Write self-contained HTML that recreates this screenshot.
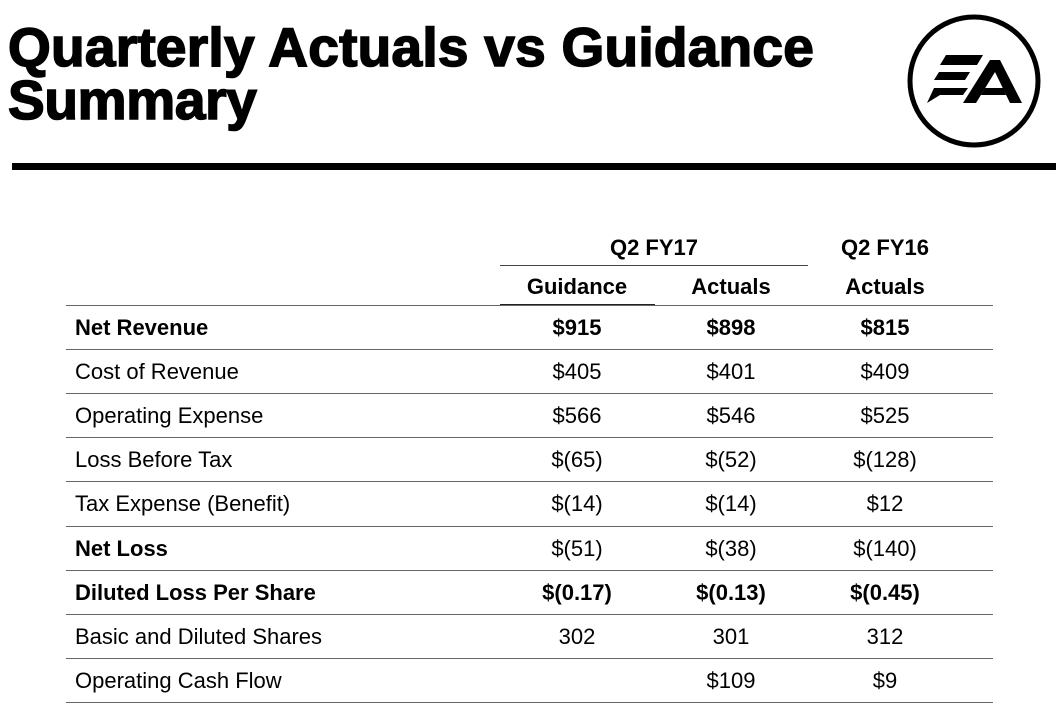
<!DOCTYPE html>
<html><head><meta charset="utf-8"><style>
body{margin:0;width:1061px;height:714px;background:#fff;position:relative;overflow:hidden;font-family:"Liberation Sans",Arial,sans-serif;color:#000}
.t{position:absolute;left:8px;font-size:55px;font-weight:bold;-webkit-text-stroke:1.6px #000;line-height:1;white-space:nowrap;letter-spacing:0.25px}
.a{position:absolute;white-space:nowrap;font-size:22px;line-height:1}
.c{transform:translateX(-50%)}
.b{font-weight:bold}
.h{position:absolute;height:1px;background:#666}
</style></head><body>
<div class="t" style="top:20px">Quarterly Actuals vs Guidance</div>
<div class="t" style="top:73px;letter-spacing:-0.3px">Summary</div>
<div style="position:absolute;left:12px;top:163px;width:1044px;height:7px;background:#000"></div>
<svg style="position:absolute;left:0;top:0" width="1061" height="160">
<circle cx="974" cy="81" r="64" fill="none" stroke="#000" stroke-width="5"/>
<polygon points="946,55 983,55 977,65 940,65" fill="#000"/>
<polygon points="939,72 970,72 965,80 934,80" fill="#000"/>
<polygon points="934,88 968,88 963,95 940,95 927,103" fill="#000"/>
<polygon points="963,103 990,60 1000,60 1022,103 1010,103 995,72 976,103" fill="#000"/>
<polygon points="985,88 1003,88 1006,95 981,95" fill="#000"/>
</svg>
<div class="a b c" style="left:654px;top:237px">Q2 FY17</div>
<div class="a b c" style="left:885px;top:237px">Q2 FY16</div>
<div class="h" style="left:500px;top:265px;width:308px;background:#444"></div>
<div class="a b c" style="left:577px;top:276px">Guidance</div>
<div class="a b c" style="left:731px;top:276px">Actuals</div>
<div class="a b c" style="left:885px;top:276px">Actuals</div>
<div class="h" style="left:66px;top:305px;width:927px"></div>
<div class="h" style="left:500px;top:304px;width:155px;background:#222"></div>
<div id="rows"></div>
<script>
var d=[["Net Revenue","$915","$898","$815",1],["Cost of Revenue","$405","$401","$409",0],["Operating Expense","$566","$546","$525",0],["Loss Before Tax","$(65)","$(52)","$(128)",0],["Tax Expense (Benefit)","$(14)","$(14)","$12",0],["Net Loss","$(51)","$(38)","$(140)",2],["Diluted Loss Per Share","$(0.17)","$(0.13)","$(0.45)",1],["Basic and Diluted Shares","302","301","312",0],["Operating Cash Flow","","$109","$9",0]];
var h="";d.forEach(function(r,i){var y=305+i*44.1;var ty=y+12;var lb=r[4]?" b":"",vb=r[4]==1?" b":"";
h+='<div class="a'+lb+'" style="left:75px;top:'+ty+'px">'+r[0]+'</div>';
h+='<div class="a c'+vb+'" style="left:577px;top:'+ty+'px">'+r[1]+'</div>';
h+='<div class="a c'+vb+'" style="left:731px;top:'+ty+'px">'+r[2]+'</div>';
h+='<div class="a c'+vb+'" style="left:885px;top:'+ty+'px">'+r[3]+'</div>';
h+='<div class="h" style="left:66px;top:'+(y+44.1).toFixed(0)+'px;width:927px"></div>';});
document.getElementById("rows").innerHTML=h;
</script>
</body></html>
